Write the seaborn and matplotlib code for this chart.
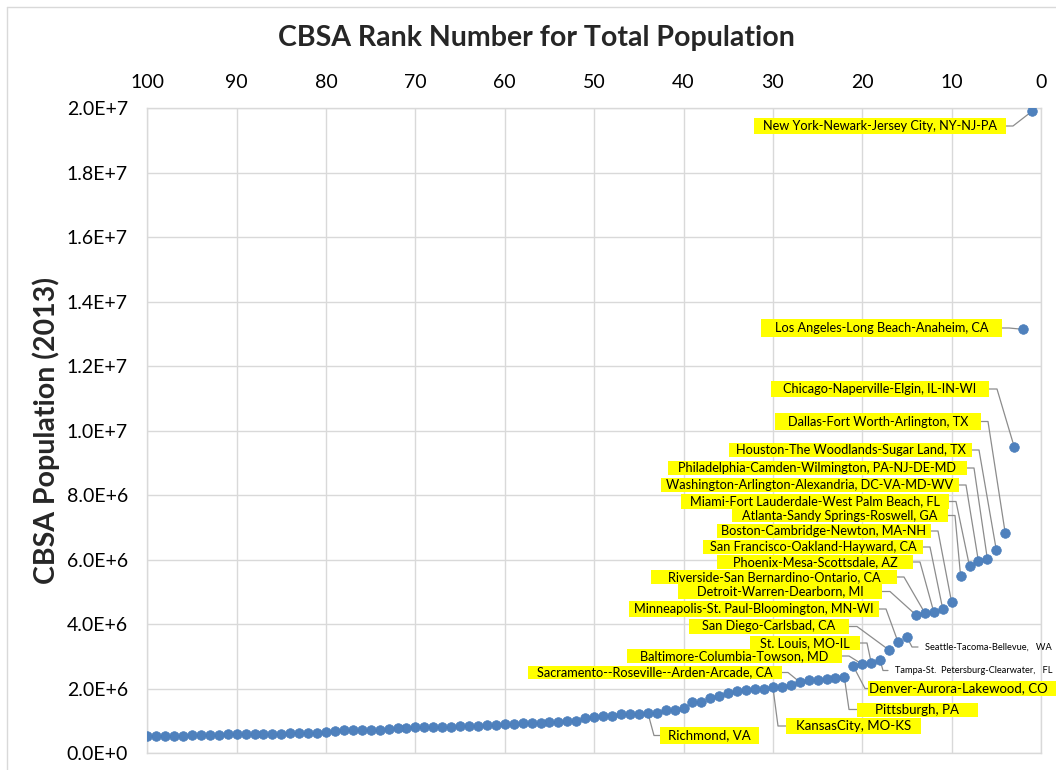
import numpy as np
import pandas as pd
import matplotlib
matplotlib.use('Agg')
import matplotlib.pyplot as plt
from matplotlib.ticker import FuncFormatter
from matplotlib.lines import Line2D
from matplotlib.patches import Rectangle
from matplotlib.transforms import IdentityTransform
import seaborn as sns

# data: CBSA population (2013) by rank (millions)
ranks = list(range(1, 101))
pop_millions = [
    19.90, 13.14, 9.50, 6.82, 6.30, 6.02, 5.95, 5.80, 5.51, 4.68,
    4.48, 4.38, 4.35, 4.29, 3.60, 3.45, 3.20, 2.88, 2.81, 2.76,
    2.70, 2.35, 2.33, 2.30, 2.27, 2.26, 2.21, 2.12, 2.06, 2.05,
    2.00, 1.98, 1.95, 1.92, 1.87, 1.77, 1.70, 1.60, 1.58, 1.41,
    1.35, 1.33, 1.26, 1.26, 1.23, 1.22, 1.22, 1.16, 1.15, 1.12,
    1.09, 1.01, 1.00, 0.98, 0.97, 0.95, 0.94, 0.94, 0.91, 0.90,
    0.87, 0.87, 0.86, 0.86, 0.86, 0.83, 0.83, 0.82, 0.82, 0.82,
    0.79, 0.79, 0.75, 0.72, 0.72, 0.71, 0.71, 0.71, 0.68, 0.65,
    0.64, 0.64, 0.64, 0.64, 0.61, 0.61, 0.60, 0.60, 0.60, 0.60,
    0.60, 0.58, 0.58, 0.57, 0.57, 0.54, 0.54, 0.54, 0.54, 0.53,
]

# labelled metro areas (yellow boxes)
box_names = [
    "New York-Newark-Jersey City, NY-NJ-PA",
    "Los Angeles-Long Beach-Anaheim, CA",
    "Chicago-Naperville-Elgin, IL-IN-WI",
    "Dallas-Fort Worth-Arlington, TX",
    "Houston-The Woodlands-Sugar Land, TX",
    "Philadelphia-Camden-Wilmington, PA-NJ-DE-MD",
    "Washington-Arlington-Alexandria, DC-VA-MD-WV",
    "Miami-Fort Lauderdale-West Palm Beach, FL",
    "Atlanta-Sandy Springs-Roswell, GA",
    "Boston-Cambridge-Newton, MA-NH",
    "San Francisco-Oakland-Hayward, CA",
    "Phoenix-Mesa-Scottsdale, AZ",
    "Riverside-San Bernardino-Ontario, CA",
    "Detroit-Warren-Dearborn, MI",
    "Minneapolis-St. Paul-Bloomington, MN-WI",
    "San Diego-Carlsbad, CA",
    "St. Louis, MO-IL",
    "Baltimore-Columbia-Towson, MD",
    "Sacramento--Roseville--Arden-Arcade, CA",
    "Denver-Aurora-Lakewood, CO",
    "Pittsburgh, PA",
    "KansasCity, MO-KS",
    "Richmond, VA",
]
box_ranks = [1, 2, 3, 4, 5, 6, 7, 8, 9, 10, 11, 12, 13, 14, 16, 17, 19, 20, 27, 21, 22, 30, 44]

# labelled metro areas (small plain text)
small_names = ["Seattle-Tacoma-Bellevue,   WA", "Tampa-St.  Petersburg-Clearwater,   FL"]
small_ranks = [15, 18]

# layout of boxes in figure pixels from the top-left: left, right, top, bottom, elbow x
box_left = [754, 761, 771, 775, 729, 668, 661, 681, 732, 717, 703, 717, 651, 678,
            629, 689, 750, 627, 528, 868, 857, 786, 660]
box_right = [1006, 1002, 989, 981, 972, 967, 959, 949, 948, 931, 923, 913, 897, 882,
             879, 849, 860, 842, 782, 1056, 978, 921, 759]
box_top = [118, 319, 381, 413, 443, 461, 478, 494, 509, 524, 540, 555, 570, 584,
           601, 619, 636, 649, 666, 681, 702.5, 718, 727]
box_bottom = [134, 337, 397, 430, 457, 475, 492, 509, 522, 538, 554, 569, 584, 599,
              617, 634, 650, 663, 679, 696, 716.5, 734, 744]
box_elbow = [1013, 1009, 997, 988, 979, 974, 966, 956, 955, 938, 930, 920, 904, 890,
             886, 857, 867, 849, 788, 865, 849, 778, 654]
box_font = [9.2] * 19 + [9.5] * 4
small_left = [925, 895]
small_cy = [647, 670.5]
small_elbow = [912, 883]

df = pd.DataFrame({'rank': ranks, 'population': np.array(pop_millions) * 1e6})

W, H = 1056, 770
sns.set_style('white')
plt.rcParams['font.family'] = ['Lato', 'DejaVu Sans']

fig = plt.figure(figsize=(W / 100, H / 100), dpi=100)
ax = fig.add_axes([147.3 / W, 1 - 753.3 / H, (1041 - 147.3) / W, (753.3 - 108) / H])

sns.scatterplot(data=df, x='rank', y='population', ax=ax, s=48, color='#4F81BD',
                edgecolor='#4A7EBB', linewidth=0.5, zorder=3)

ax.set_xlim(100, 0)
ax.set_ylim(0, 2e7)
ax.xaxis.tick_top()
ax.set_xticks(np.arange(100, -1, -10))
ax.set_yticks(np.arange(0, 2.01e7, 2e6))


def sci(v, pos):
    if v == 0:
        return '0.0E+0'
    e = int(np.floor(np.log10(abs(v))))
    return f'{v / 10 ** e:.1f}E+{e}'


ax.yaxis.set_major_formatter(FuncFormatter(sci))
ax.tick_params(axis='both', length=0, labelsize=14, colors='#000000')
ax.tick_params(axis='y', pad=14)
ax.tick_params(axis='x', pad=12)
ax.set_xlabel('')
ax.set_ylabel('')
ax.grid(True, color='#D9D9D9', lw=1)
ax.set_axisbelow(True)
for sp in ax.spines.values():
    sp.set_color('#D9D9D9')
    sp.set_linewidth(1)

inv = ax.transData.inverted()


def px2data(px, py):
    return inv.transform((px, H - py))


line_kw = dict(color='#8C8C8C', lw=0.9, zorder=2.5, clip_on=False)

for name, rk, x0, x1, y0, y1, elx, fs in zip(box_names, box_ranks, box_left, box_right,
                                             box_top, box_bottom, box_elbow, box_font):
    val = df.loc[df['rank'] == rk, 'population'].iloc[0]
    cy = (y0 + y1) / 2
    edge = x1 if elx > x1 else x0
    ex, ey = px2data(edge, cy)
    bx, _ = px2data(elx, cy)
    ax.plot([ex, bx, rk], [ey, ey, val], **line_kw)
    ax.add_patch(Rectangle((x0, H - y1), x1 - x0, y1 - y0, transform=IdentityTransform(),
                           fc='#FFFF00', ec='none', zorder=3.5, clip_on=False))
    cx, cyd = px2data((x0 + min(x1, 1049)) / 2, cy)
    ax.text(cx, cyd, name, ha='center', va='center', fontsize=fs, color='#000000',
            zorder=4, clip_on=False)

for name, rk, x0, cy, elx in zip(small_names, small_ranks, small_left, small_cy, small_elbow):
    val = df.loc[df['rank'] == rk, 'population'].iloc[0]
    tx, ty = px2data(x0 - 7, cy)
    bx, _ = px2data(elx, cy)
    ax.plot([tx, bx, rk], [ty, ty, val], **line_kw)
    sx, _ = px2data(x0, cy)
    ax.text(sx, ty, name, ha='left', va='center', fontsize=6.7, color='#000000',
            zorder=4, clip_on=False)

fig.text(536.5 / W, 1 - 38 / H, 'CBSA Rank Number for Total Population', ha='center',
         va='center', fontsize=20.5, fontweight='bold')
fig.text(46 / W, 1 - 430.5 / H, 'CBSA Population (2013)', ha='center', va='center',
         rotation=90, fontsize=20.5, fontweight='bold')

# outer chart border (only top and left visible)
fig.add_artist(Line2D([7 / W, 7 / W], [0, 1 - 7 / H], color='#D9D9D9', lw=1))
fig.add_artist(Line2D([7 / W, 1], [1 - 7 / H, 1 - 7 / H], color='#D9D9D9', lw=1))

fig.savefig('out.png', dpi=100)
